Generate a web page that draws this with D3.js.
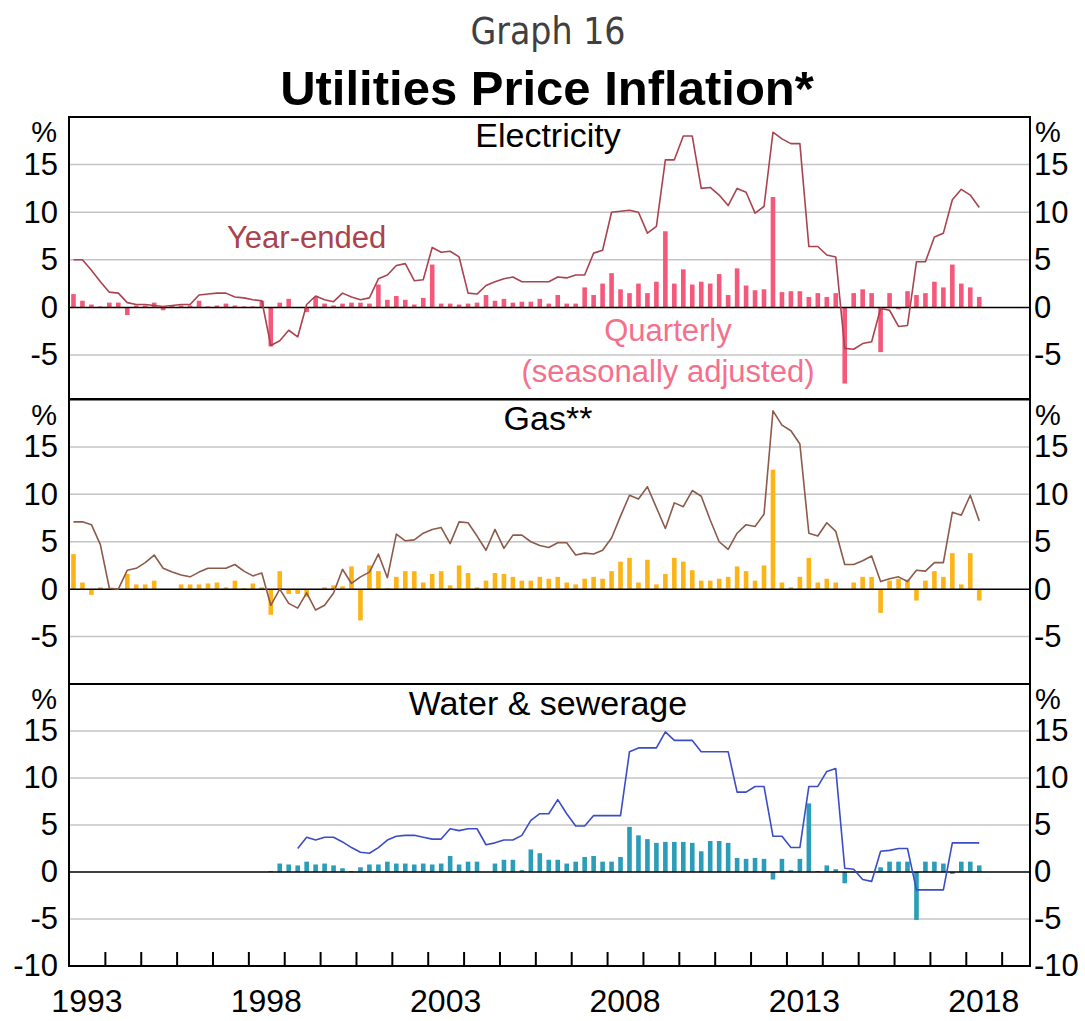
<!DOCTYPE html>
<html lang="en">
<head>
<meta charset="utf-8">
<title>Utilities Price Inflation</title>
<script src="https://cdn.jsdelivr.net/npm/d3@7"></script>
<style>
  html, body { margin: 0; padding: 0; background: #fff; }
  svg text { font-family: "Liberation Sans", Arial, sans-serif; }
</style>
</head>
<body>
<svg id="chart" width="1085" height="1021"></svg>
<script>
// quarterly data, 1993 Q1 to 2018 Q2 (per cent)
const firstYear = 1993;
const yearLabels = [1993, 1998, 2003, 2008, 2013, 2018];

const elecYearEnded = [
  5.0, 5.0, 3.9, 2.7, 1.6, 1.5, 0.5, 0.3,
  0.3, 0.2, 0.1, 0.2, 0.3, 0.3, 1.3, 1.4,
  1.5, 1.5, 1.1, 1.0, 0.8, 0.7, -4.0, -3.5,
  -2.4, -3.1, 0.3, 1.2, 0.8, 0.6, 1.5, 1.1,
  0.8, 1.0, 3.0, 3.4, 4.4, 4.6, 2.8, 2.9,
  6.3, 5.8, 5.9, 5.3, 1.5, 1.4, 2.3, 2.7,
  3.0, 3.2, 2.7, 2.7, 2.7, 2.7, 3.2, 3.1,
  3.4, 3.4, 5.7, 6.0, 10.0, 10.1, 10.2, 10.0,
  7.8, 8.5, 15.5, 15.5, 18.0, 18.0, 12.5, 12.6,
  11.8, 10.7, 12.5, 12.1, 9.9, 10.6, 18.4, 17.7,
  17.2, 17.2, 6.4, 6.4, 5.5, 5.3, -4.3, -4.4,
  -3.8, -3.6, -0.1, -0.3, -2.0, -1.9, 4.8, 4.8,
  7.4, 7.8, 11.3, 12.4, 11.8, 10.5
];
const elecQuarterly = [
  1.4, 0.7, 0.3, 0.1, 0.5, 0.5, -0.8, 0.2,
  0.2, 0.5, -0.3, 0.2, 0.2, 0.2, 0.7, 0.1,
  0.2, 0.4, 0.2, 0.1, 0.1, 0.7, -4.1, 0.5,
  0.9, 0.0, -0.5, 1.1, 0.4, 0.2, 0.4, 0.5,
  0.5, 0.4, 2.4, 0.8, 1.2, 0.8, 0.3, 1.0,
  4.5, 0.4, 0.4, 0.3, 0.4, 0.5, 1.3, 0.7,
  0.9, 0.5, 0.6, 0.6, 0.9, 0.4, 1.3, 0.4,
  0.4, 2.1, 1.3, 2.5, 3.6, 1.9, 1.5, 2.5,
  1.5, 2.7, 8.0, 2.5, 4.0, 2.4, 2.7, 2.5,
  3.5, 1.3, 4.1, 2.3, 1.8, 1.9, 11.6, 1.6,
  1.7, 1.7, 1.1, 1.5, 1.1, 1.5, -8.0, 1.5,
  1.9, 1.5, -4.7, 1.5, -0.2, 1.7, 1.3, 1.5,
  2.7, 2.1, 4.5, 2.5, 2.1, 1.1
];

const gasYearEnded = [
  7.1, 7.1, 6.8, 4.7, 0.1, 0.0, 2.0, 2.2,
  2.8, 3.6, 2.2, 1.8, 1.5, 1.3, 1.8, 2.2,
  2.2, 2.2, 2.6, 1.9, 1.4, 1.7, -1.7, 0.0,
  -1.5, -2.0, -0.4, -2.2, -1.7, -0.4, 2.1, 0.6,
  1.3, 1.8, 3.7, 1.2, 5.8, 5.1, 5.2, 5.9,
  6.3, 6.5, 4.8, 7.1, 7.0, 5.6, 4.1, 6.3,
  4.3, 5.7, 5.7, 5.0, 4.6, 4.4, 4.9, 4.9,
  3.6, 3.8, 3.7, 4.1, 5.4, 7.7, 9.9, 9.5,
  10.8, 8.6, 6.4, 9.1, 8.7, 10.4, 9.8, 7.3,
  5.0, 4.2, 5.9, 6.8, 6.6, 7.9, 18.8, 17.3,
  16.7, 15.3, 5.9, 5.6, 7.0, 6.1, 2.6, 2.6,
  3.0, 3.5, 0.8, 1.1, 1.3, 0.8, 2.0, 1.9,
  2.8, 2.8, 8.1, 7.8, 9.9, 7.2
];
const gasQuarterly = [
  3.7, 0.7, -0.6, 0.2, 0.1, 0.0, 1.6, 0.5,
  0.5, 0.9, 0.0, 0.0, 0.5, 0.5, 0.5, 0.6,
  0.7, 0.2, 0.9, 0.1, 0.6, 0.2, -2.7, 1.9,
  -0.5, -0.5, -0.8, 0.0, 0.2, 0.4, 0.3, 2.4,
  -3.3, 2.5, 1.9, 0.1, 1.3, 1.9, 1.9, 0.7,
  1.6, 1.9, 0.4, 2.5, 1.7, 0.2, 0.9, 1.7,
  1.6, 1.3, 0.9, 0.9, 1.3, 1.1, 1.3, 0.7,
  0.5, 1.1, 1.3, 1.1, 1.9, 2.9, 3.3, 0.7,
  3.1, 0.5, 1.6, 3.3, 2.9, 2.0, 0.9, 0.9,
  1.1, 1.3, 2.4, 1.9, 0.9, 2.5, 12.6, 0.7,
  0.2, 1.3, 3.3, 0.7, 1.1, 0.7, -0.1, 0.7,
  1.3, 1.3, -2.5, 0.9, 1.1, 1.0, -1.2, 0.9,
  1.9, 1.3, 3.8, 0.5, 3.8, -1.2
];

// water series start later: year-ended from 1999 Q2, quarterly from 1998 Q3
const waterYearEndedStart = 25;
const waterYearEnded = [
  2.5, 3.7, 3.4, 3.7, 3.7, 3.2, 2.6,
  2.1, 2.0, 2.6, 3.4, 3.8, 3.9, 3.9, 3.7,
  3.5, 3.5, 4.6, 4.4, 4.6, 4.6, 2.9, 3.1,
  3.4, 3.4, 3.9, 5.5, 6.2, 6.2, 7.7, 6.2,
  4.9, 4.9, 6.0, 6.0, 6.0, 6.0, 12.8, 13.2,
  13.2, 13.2, 14.9, 14.0, 14.0, 14.0, 12.8, 12.8,
  12.8, 12.8, 8.5, 8.5, 9.1, 9.1, 3.8, 3.8,
  2.6, 2.6, 9.1, 9.1, 10.7, 11.0, 0.4, 0.3,
  -0.8, -1.0, 2.2, 2.3, 2.5, 2.5, -1.9, -1.9,
  -1.9, -1.9, 3.1, 3.1, 3.1, 3.1
];
const waterQuarterlyStart = 22;
const waterQuarterly = [
  0.1, 0.9,
  0.8, 0.7, 1.1, 0.8, 0.9, 0.7, 0.4, 0.1,
  0.5, 0.8, 0.8, 1.1, 0.9, 0.9, 0.8, 0.9,
  0.8, 0.9, 1.7, 0.8, 1.1, 1.1, 0.0, 0.9,
  1.3, 1.3, 0.2, 2.4, 2.0, 1.3, 1.3, 0.9,
  1.1, 1.6, 1.7, 1.1, 1.1, 1.6, 4.8, 3.9,
  3.5, 3.1, 3.2, 3.2, 3.2, 3.1, 2.2, 3.3,
  3.3, 3.1, 1.5, 1.4, 1.5, 1.4, -0.8, 1.4,
  0.2, 1.4, 7.3, 0.1, 0.7, 0.3, -1.2, 0.0,
  0.0, 0.0, 0.5, 1.1, 1.1, 1.1, -5.1, 1.1,
  1.1, 0.9, -0.2, 1.1, 1.1, 0.7
];

const panels = [
  { title: 'Electricity', titleY: 147, top: 117, bottom: 399, yBottom: 402.6,
    line: elecYearEnded, lineStart: 0, bars: elecQuarterly, barStart: 0,
    lineColor: '#a8434f', barColor: '#f4587a', ticks: [-5, 0, 5, 10, 15] },
  { title: 'Gas**', titleY: 430, top: 399.5, bottom: 684, yBottom: 684,
    line: gasYearEnded, lineStart: 0, bars: gasQuarterly, barStart: 0,
    lineColor: '#8c5a4a', barColor: '#fdb417', ticks: [-5, 0, 5, 10, 15] },
  { title: 'Water & sewerage', titleY: 715, top: 684, bottom: 966, yBottom: 966,
    line: waterYearEnded, lineStart: waterYearEndedStart, bars: waterQuarterly, barStart: waterQuarterlyStart,
    lineColor: '#3a4dc6', barColor: '#2b9db8', ticks: [-10, -5, 0, 5, 10, 15] }
];

const left = 69, right = 1030;
const svg = d3.select('#chart');
const x = d3.scaleLinear().domain([1993, 2019.79]).range([left, right]);
const qDate = i => firstYear + (i + 0.5) / 4;
const barW = 4.6;
const labelSize = 31;

svg.append('rect').attr('width', 1085).attr('height', 1021).attr('fill', '#fff');

// titles
svg.append('text')
  .attr('x', 548).attr('y', 44)
  .attr('text-anchor', 'middle')
  .style('font-family', '"DejaVu Sans Condensed", "DejaVu Sans", sans-serif')
  .style('font-stretch', 'condensed')
  .attr('font-size', 37).attr('fill', '#404040')
  .text('Graph 16');
svg.append('text')
  .attr('x', 547).attr('y', 105)
  .attr('text-anchor', 'middle')
  .attr('font-size', 49).attr('font-weight', 'bold')
  .text('Utilities Price Inflation*');

panels.forEach((p, k) => {
  const y = d3.scaleLinear().domain([-10, 20]).range([p.yBottom, p.top]);
  const g = svg.append('g');

  svg.append('clipPath').attr('id', 'clip' + k)
    .append('rect')
    .attr('x', left).attr('y', p.top)
    .attr('width', right - left).attr('height', p.bottom - p.top);
  const plot = g.append('g').attr('clip-path', `url(#clip${k})`);

  plot.selectAll('line.grid')
    .data([-5, 5, 10, 15])
    .join('line')
    .attr('class', 'grid')
    .attr('x1', left).attr('x2', right)
    .attr('y1', d => y(d)).attr('y2', d => y(d))
    .attr('stroke', '#c4c4c4').attr('stroke-width', 1.5);

  const barData = p.bars.map((v, i) => ({ t: qDate(i + p.barStart), v }));
  plot.selectAll('rect.bar')
    .data(barData)
    .join('rect')
    .attr('class', 'bar')
    .attr('x', d => x(d.t) - barW / 2)
    .attr('width', barW)
    .attr('y', d => y(Math.max(0, d.v)))
    .attr('height', d => Math.abs(y(d.v) - y(0)))
    .attr('fill', p.barColor);

  plot.append('line')
    .attr('x1', left).attr('x2', right)
    .attr('y1', y(0)).attr('y2', y(0))
    .attr('stroke', '#000').attr('stroke-width', 1.5);

  const lineData = p.line.map((v, i) => ({ t: qDate(i + p.lineStart), v }));
  plot.append('path')
    .datum(lineData)
    .attr('fill', 'none')
    .attr('stroke', p.lineColor)
    .attr('stroke-width', 1.6)
    .attr('stroke-linejoin', 'round')
    .attr('d', d3.line().x(d => x(d.t)).y(d => y(d.v)));

  g.append('rect')
    .attr('x', left).attr('y', p.top)
    .attr('width', right - left).attr('height', p.bottom - p.top)
    .attr('fill', 'none').attr('stroke', '#000').attr('stroke-width', 2);

  // y axes both sides
  const fmt = d => String(d);
  const leftAxis = g.append('g')
    .attr('transform', `translate(${left},0)`)
    .call(d3.axisLeft(y).tickValues(p.ticks).tickSize(0).tickPadding(11).tickFormat(fmt));
  const rightAxis = g.append('g')
    .attr('transform', `translate(${right},0)`)
    .call(d3.axisRight(y).tickValues(p.ticks).tickSize(0).tickPadding(4).tickFormat(fmt));
  [leftAxis, rightAxis].forEach(a => {
    a.select('.domain').remove();
    a.attr('font-size', labelSize).attr('font-family', null);
    a.selectAll('text').attr('fill', '#000');
  });

  // unit labels sit tight under the panel's top edge
  g.append('text').attr('x', left - 12).attr('y', p.top + 25)
    .attr('text-anchor', 'end').attr('font-size', 29).text('%');
  g.append('text').attr('x', right + 5).attr('y', p.top + 25)
    .attr('text-anchor', 'start').attr('font-size', 29).text('%');

  g.append('text')
    .attr('x', 548).attr('y', p.titleY)
    .attr('text-anchor', 'middle')
    .attr('font-size', 34)
    .text(p.title);
});

// annotations in the electricity panel
svg.append('text')
  .attr('x', 227).attr('y', 248)
  .attr('font-size', labelSize).attr('fill', '#a8434f')
  .text('Year-ended');
svg.append('text')
  .attr('x', 668).attr('y', 341)
  .attr('text-anchor', 'middle')
  .attr('font-size', labelSize).attr('fill', '#f5708c')
  .text('Quarterly');
svg.append('text')
  .attr('x', 668).attr('y', 382)
  .attr('text-anchor', 'middle')
  .attr('font-size', labelSize).attr('fill', '#f5708c')
  .text('(seasonally adjusted)');

// x axis: year ticks on the bottom panel, labels centred in the year
const xAxis = svg.append('g')
  .attr('transform', 'translate(0,966)')
  .call(d3.axisBottom(x).tickValues(d3.range(1994, 2020)).tickSize(-14).tickFormat(''));
xAxis.select('.domain').remove();
xAxis.selectAll('line').attr('stroke', '#000').attr('stroke-width', 2);

svg.append('g')
  .selectAll('text')
  .data(yearLabels)
  .join('text')
  .attr('x', d => x(d + 0.5))
  .attr('y', 1012)
  .attr('text-anchor', 'middle')
  .attr('font-size', 32)
  .text(d => d);
</script>
</body>
</html>
